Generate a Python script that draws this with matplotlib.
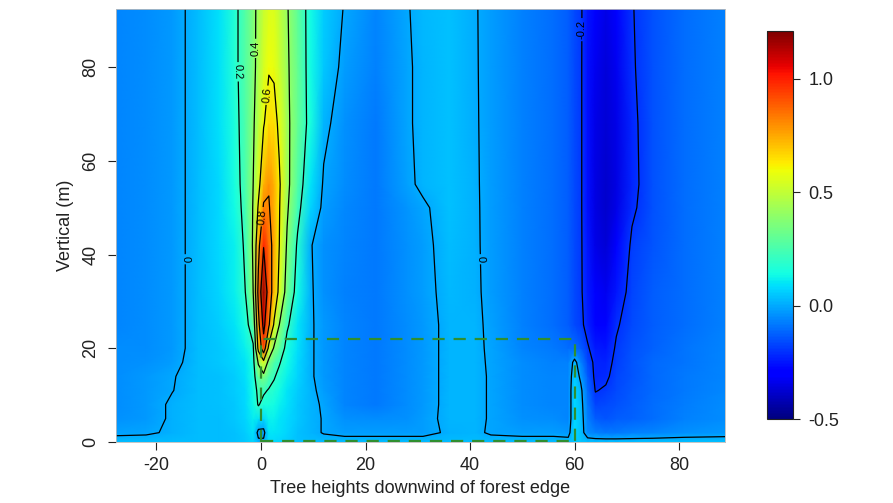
import numpy as np
import matplotlib
matplotlib.use("Agg")
import matplotlib.pyplot as plt

plt.rcParams['font.family'] = ['Liberation Sans', 'DejaVu Sans']

# ---- data ----------------------------------------------------------------
# horizontal positions (tree heights downwind of forest edge)
x_pos = [-28, -22, -17, -12, -8, -5, -3, -1.5, -0.5, 0.5, 1.5, 2.5, 3.5, 5, 7,
         9.5, 12, 16, 22, 28, 31, 36, 41, 44, 50, 56, 58.8, 60, 61.2, 62.5,
         64, 66, 68, 71, 75, 81, 89]
# vertical positions (m)
z_pos = [0, 2, 5, 8, 11, 14, 17, 20, 25, 32, 42, 50, 55, 68, 80, 92.5]

# field values, one row per height
row_z0 = [0.03, 0.03, 0.03, 0.03,
          0.03, 0.04, 0.05, 0.07, 0.02, 0.02, 0.08, 0.08, 0.07, 0.06, 0.04, 0.03,
          0.03, 0.03, 0.03,
          0.03, 0.03, 0.03, 0.03, 0.03,
          0.03, 0.03, 0.03, 0.05, 0.05,
          0.04, 0.04, 0.04, 0.04, 0.04, 0.04, 0.04, 0.04]
row_z2 = [-0.015, -0.01, 0.01, 0.03,
          0.03, 0.04, 0.06, 0.09, -0.03, -0.03, 0.1, 0.1, 0.09, 0.07, 0.04, 0.02,
          -0.005, -0.02, -0.02,
          -0.02, -0.02, 0.01, 0.015, -0.01,
          -0.02, -0.02, -0.03, 0.08, 0.04,
          -0.05, -0.07, -0.08, -0.08, -0.07, -0.06, -0.04, -0.03]
row_z5 = [-0.04, -0.03, 0.01, 0.03,
          0.03, 0.05, 0.07, 0.11, 0.1, 0.08, 0.12, 0.12, 0.1, 0.08, 0.05, 0.02,
          -0.005, -0.04, -0.05,
          -0.04, -0.025, 0.02, 0.02, -0.008,
          -0.04, -0.05, -0.06, 0.08, 0.04,
          -0.07, -0.13, -0.14, -0.13, -0.12, -0.1, -0.07, -0.05]
row_z8 = [-0.05, -0.03, 0.01, 0.03,
          0.04, 0.05, 0.08, 0.13, 0.21, 0.16, 0.15, 0.14, 0.12, 0.09, 0.05, 0.02,
          -0.01, -0.06, -0.08,
          -0.05, -0.03, 0.02, 0.02, -0.008,
          -0.05, -0.06, -0.06, 0.08, 0.03,
          -0.08, -0.17, -0.165, -0.15, -0.13, -0.1, -0.075, -0.05]
row_z11 = [-0.05, -0.03, -0.002, 0.03,
           0.04, 0.06, 0.08, 0.14, 0.23, 0.22, 0.19, 0.17, 0.14, 0.1, 0.06, 0.015,
           -0.02, -0.06, -0.08,
           -0.05, -0.03, 0.02, 0.02, -0.008,
           -0.05, -0.06, -0.06, 0.08, 0.02,
           -0.1, -0.204, -0.19, -0.16, -0.135, -0.11, -0.08, -0.055]
row_z14 = [-0.05, -0.03, -0.005, 0.03,
           0.04, 0.06, 0.09, 0.15, 0.3, 0.36, 0.26, 0.21, 0.17, 0.12, 0.07, 0.01,
           -0.03, -0.06, -0.08,
           -0.05, -0.03, 0.02, 0.02, -0.008,
           -0.05, -0.06, -0.06, 0.06, -0.02,
           -0.13, -0.22, -0.215, -0.17, -0.14, -0.11, -0.085, -0.06]
row_z17 = [-0.05, -0.04, -0.02, 0.03,
           0.05, 0.07, 0.1, 0.16, 0.42, 0.55, 0.35, 0.26, 0.21, 0.14, 0.08, 0.01,
           -0.03, -0.06, -0.08,
           -0.05, -0.03, 0.02, 0.018, -0.01,
           -0.05, -0.07, -0.07, 0.03, -0.06,
           -0.16, -0.22, -0.23, -0.18, -0.14, -0.11, -0.09, -0.06]
row_z20 = [-0.05, -0.05, -0.03, 0.03,
           0.05, 0.08, 0.12, 0.18, 0.65, 0.92, 0.55, 0.38, 0.3, 0.15, 0.09, 0.01,
           -0.03, -0.06, -0.08,
           -0.05, -0.03, 0.02, 0.016, -0.012,
           -0.06, -0.08, -0.1, -0.1, -0.13,
           -0.19, -0.24, -0.25, -0.19, -0.15, -0.12, -0.09, -0.065]
row_z25 = [-0.06, -0.05, -0.03, 0.03,
           0.06, 0.1, 0.15, 0.28, 0.75, 1.05, 0.82, 0.58, 0.4, 0.22, 0.1, 0.01,
           -0.03, -0.06, -0.08,
           -0.05, -0.03, 0.02, 0.015, -0.015,
           -0.07, -0.1, -0.13, -0.16, -0.18,
           -0.23, -0.28, -0.29, -0.21, -0.16, -0.13, -0.1, -0.07]
row_z32 = [-0.06, -0.05, -0.03, 0.03,
           0.07, 0.12, 0.2, 0.4, 0.85, 1.18, 0.9, 0.72, 0.56, 0.33, 0.14, 0.01,
           -0.04, -0.07, -0.08,
           -0.045, -0.025, 0.025, 0.012, -0.02,
           -0.07, -0.1, -0.13, -0.16, -0.19,
           -0.24, -0.31, -0.33, -0.25, -0.17, -0.13, -0.1, -0.07]
row_z42 = [-0.06, -0.05, -0.03, 0.03,
           0.08, 0.12, 0.22, 0.42, 0.75, 0.99, 0.86, 0.75, 0.6, 0.38, 0.18, 0.005,
           -0.04, -0.06, -0.08,
           -0.04, -0.02, 0.03, 0.01, -0.022,
           -0.07, -0.1, -0.13, -0.16, -0.19,
           -0.25, -0.34, -0.37, -0.3, -0.185, -0.14, -0.1, -0.07]
row_z50 = [-0.06, -0.05, -0.03, 0.03,
           0.08, 0.14, 0.24, 0.41, 0.62, 0.82, 0.81, 0.74, 0.61, 0.42, 0.24, 0.07,
           -0.02, -0.055, -0.08,
           -0.035, -0.012, 0.035, 0.009, -0.022,
           -0.07, -0.1, -0.13, -0.16, -0.19,
           -0.26, -0.35, -0.38, -0.34, -0.215, -0.15, -0.1, -0.07]
row_z55 = [-0.06, -0.05, -0.03, 0.03,
           0.08, 0.15, 0.25, 0.4, 0.55, 0.73, 0.79, 0.74, 0.62, 0.44, 0.27, 0.1,
           -0.01, -0.05, -0.08,
           -0.015, 0.015, 0.04, 0.008, -0.022,
           -0.07, -0.1, -0.13, -0.16, -0.19,
           -0.26, -0.35, -0.38, -0.35, -0.225, -0.15, -0.1, -0.07]
row_z68 = [-0.06, -0.05, -0.03, 0.03,
           0.09, 0.16, 0.26, 0.38, 0.48, 0.59, 0.66, 0.65, 0.57, 0.43, 0.31, 0.15,
           0.02, -0.04, -0.08,
           -0.01, 0.02, 0.04, 0.007, -0.024,
           -0.07, -0.1, -0.13, -0.16, -0.19,
           -0.26, -0.34, -0.37, -0.34, -0.22, -0.15, -0.1, -0.07]
row_z80 = [-0.06, -0.05, -0.03, 0.03,
           0.09, 0.17, 0.27, 0.36, 0.45, 0.54, 0.59, 0.58, 0.52, 0.42, 0.31, 0.14,
           0.05, -0.02, -0.07,
           -0.01, 0.02, 0.04, 0.006, -0.025,
           -0.07, -0.1, -0.13, -0.16, -0.19,
           -0.26, -0.33, -0.36, -0.33, -0.21, -0.15, -0.1, -0.07]
row_z92 = [-0.06, -0.05, -0.03, 0.03,
           0.09, 0.17, 0.27, 0.36, 0.44, 0.51, 0.55, 0.55, 0.5, 0.41, 0.3, 0.14,
           0.06, -0.005, -0.06,
           -0.005, 0.025, 0.04, 0.005, -0.025,
           -0.07, -0.1, -0.13, -0.16, -0.19,
           -0.25, -0.31, -0.34, -0.31, -0.205, -0.15, -0.1, -0.07]

field_rows = [row_z0, row_z2, row_z5, row_z8, row_z11, row_z14, row_z17,
              row_z20, row_z25, row_z32, row_z42, row_z50, row_z55, row_z68,
              row_z80, row_z92]

contour_levels = [-0.2, 0.0, 0.2, 0.4, 0.6, 0.8, 1.0]
cbar_ticks = [-0.5, 0.0, 0.5, 1.0]
x_ticks = [-20, 0, 20, 40, 60, 80]
y_ticks = [0, 20, 40, 60, 80]

# forest block outline (edge at 0, end at 60, height 22)
forest_x = [0, 0, 60, 60]
forest_z = [0, 22, 22, 0]
forest_base_x = [0, 60]
forest_base_z = [0.3, 0.3]

# ---- plotting --------------------------------------------------------------
X = np.array(x_pos, dtype=float)
Z = np.array(z_pos, dtype=float)
V = np.array(field_rows, dtype=float)
XX, ZZ = np.meshgrid(X, Z)

W, H = 893, 503
fig = plt.figure(figsize=(W / 100, H / 100), dpi=100)
ax = fig.add_axes([116 / W, 1 - 442 / H, (725 - 116) / W, (442 - 9) / H])

vmin, vmax = -0.5, 1.21
mesh = ax.pcolormesh(XX, ZZ, V, shading='gouraud', cmap='jet',
                     vmin=vmin, vmax=vmax, rasterized=True)
cs = ax.contour(XX, ZZ, V, levels=contour_levels, colors='black',
                linewidths=0.9, linestyles='solid')
label_spots = [(-14.2, 39), (-4.3, 79), (-1.1, 84), (1.2, 74), (0.9, 48),
               (41.9, 39), (61.4, 88)]
ax.clabel(cs, fmt=lambda v: f"{v:g}", fontsize=8, inline=True,
          inline_spacing=2, manual=label_spots)

green = '#2f8f2f'
ax.plot(forest_x, forest_z, color=green, lw=1.6, dashes=(5.5, 4))
ax.plot(forest_base_x, forest_base_z, color=green, lw=1.6, dashes=(5.5, 4))

ax.set_xlim(-27.75, 88.8)
ax.set_ylim(0, 92.4)
ax.set_xticks(x_ticks)
ax.set_yticks(y_ticks)
ax.set_xticklabels([str(t) for t in x_ticks])
ax.set_yticklabels([str(t) for t in y_ticks], rotation=90, va='center')
ax.tick_params(axis='both', direction='out', length=6, width=0.8,
               colors='#222222', labelsize=13)
ax.tick_params(axis='x', pad=5)
ax.tick_params(axis='y', pad=6)
for s in ax.spines.values():
    s.set_color('#bbbbbb')
    s.set_linewidth(0.6)

ax.set_xlabel('Tree heights downwind of forest edge', fontsize=13,
              color='#222222', labelpad=4)
ax.set_ylabel('Vertical (m)', fontsize=13, color='#222222', labelpad=6)

cax = fig.add_axes([767 / W, 1 - 419 / H, 26 / W, (419 - 31) / H])
cb = fig.colorbar(mesh, cax=cax, ticks=cbar_ticks)
cb.ax.set_yticklabels([f"{t:.1f}" for t in cbar_ticks])
cb.ax.tick_params(direction='out', length=5, width=0.8, labelsize=13,
                  colors='#222222', pad=6)
cb.outline.set_linewidth(0.8)
cb.outline.set_edgecolor('#222222')

fig.savefig('out.png', dpi=100)
